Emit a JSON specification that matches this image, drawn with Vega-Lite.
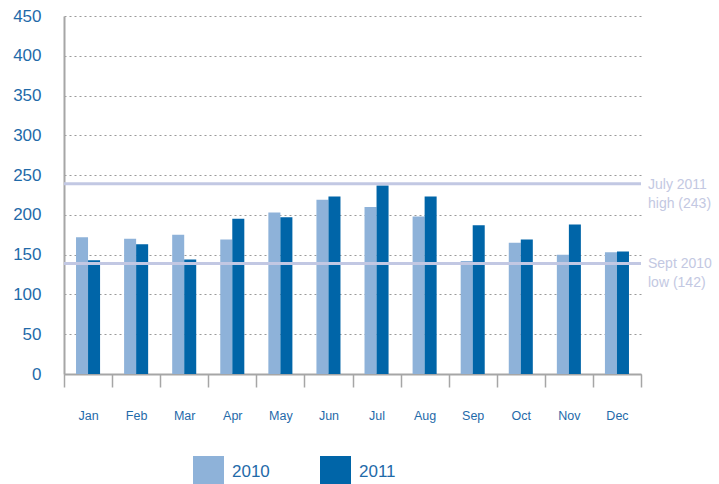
{
  "$schema": "https://vega.github.io/schema/vega-lite/v6.json",
  "width": 577,
  "height": 358,
  "autosize": {"type": "none"},
  "padding": {"left": 64, "top": 16, "right": 78, "bottom": 110},
  "config": {
    "font": "Liberation Sans",
    "view": {"stroke": null},
    "background": "white"
  },
  "encoding": {
    "y": {
      "field": "value",
      "type": "quantitative",
      "scale": {"domain": [0, 450], "nice": false},
      "axis": {
        "title": null,
        "values": [0,50,100,150,200,250,300,350,400,450],
        "labelOverlap": false,
        "labelBound": false,
        "ticks": false,
        "labelFontSize": 17,
        "labelColor": "#1f6aa9",
        "labelPadding": 23,
        "domainColor": "#a6a6a6",
        "domainWidth": 2,
        "grid": true,
        "gridColor": "#9a9a9a",
        "gridDash": [2, 3],
        "gridWidth": 1
      }
    }
  },
  "layer": [
    {
      "data": {
        "values": [
          {"month": "Jan", "year": "2010", "value": 172},
          {"month": "Jan", "year": "2011", "value": 143},
          {"month": "Feb", "year": "2010", "value": 170},
          {"month": "Feb", "year": "2011", "value": 163},
          {"month": "Mar", "year": "2010", "value": 175},
          {"month": "Mar", "year": "2011", "value": 144},
          {"month": "Apr", "year": "2010", "value": 169},
          {"month": "Apr", "year": "2011", "value": 195},
          {"month": "May", "year": "2010", "value": 203},
          {"month": "May", "year": "2011", "value": 197},
          {"month": "Jun", "year": "2010", "value": 219},
          {"month": "Jun", "year": "2011", "value": 223},
          {"month": "Jul", "year": "2010", "value": 210},
          {"month": "Jul", "year": "2011", "value": 237},
          {"month": "Aug", "year": "2010", "value": 198},
          {"month": "Aug", "year": "2011", "value": 223},
          {"month": "Sep", "year": "2010", "value": 142},
          {"month": "Sep", "year": "2011", "value": 187},
          {"month": "Oct", "year": "2010", "value": 165},
          {"month": "Oct", "year": "2011", "value": 169},
          {"month": "Nov", "year": "2010", "value": 150},
          {"month": "Nov", "year": "2011", "value": 188},
          {"month": "Dec", "year": "2010", "value": 153},
          {"month": "Dec", "year": "2011", "value": 154}
        ]
      },
      "mark": {"type": "bar"},
      "encoding": {
        "x": {
          "field": "month",
          "type": "nominal",
          "sort": ["Jan","Feb","Mar","Apr","May","Jun","Jul","Aug","Sep","Oct","Nov","Dec"],
          "scale": {"paddingInner": 0, "paddingOuter": 0},
          "axis": {
            "title": null,
            "labelAngle": 0,
            "labelFontSize": 12.5,
            "labelColor": "#1f6aa9",
            "labelPadding": 22,
            "tickBand": "extent",
            "tickSize": 13,
            "tickColor": "#a6a6a6",
            "tickWidth": 1.5,
            "domainColor": "#a6a6a6",
            "domainWidth": 2,
            "grid": false
          }
        },
        "xOffset": {
          "field": "year",
          "type": "nominal",
          "scale": {"paddingInner": 0, "paddingOuter": 1.09}
        },
        "color": {
          "field": "year",
          "type": "nominal",
          "scale": {"domain": ["2010", "2011"], "range": ["#8eb2d9", "#0065a8"]},
          "legend": {
            "title": null,
            "orient": "none",
            "direction": "horizontal",
            "legendX": 129,
            "legendY": 440,
            "symbolType": "square",
            "symbolSize": 961,
            "symbolStrokeWidth": 0,
            "symbolOpacity": 1,
            "labelFontSize": 17,
            "labelColor": "#1f6aa9",
            "labelOffset": 8,
            "columnPadding": 50
          }
        }
      }
    },
    {
      "data": {
        "values": [
          {"value": 239, "label": ["July 2011", "high (243)"]},
          {"value": 139, "label": ["Sept 2010", "low (142)"]}
        ]
      },
      "mark": {"type": "rule", "color": "#c2c8e3", "strokeWidth": 3},
      "encoding": {}
    },
    {
      "data": {
        "values": [
          {"value": 239, "label": ["July 2011", "high (243)"]},
          {"value": 139, "label": ["Sept 2010", "low (142)"]}
        ]
      },
      "mark": {
        "type": "text",
        "align": "left",
        "baseline": "alphabetic",
        "dx": 7,
        "dy": 5,
        "fontSize": 14,
        "lineHeight": 19,
        "color": "#c3c8e2"
      },
      "encoding": {
        "x": {"datum": "Dec", "bandPosition": 1},
        "text": {"field": "label"}
      }
    }
  ]
}
